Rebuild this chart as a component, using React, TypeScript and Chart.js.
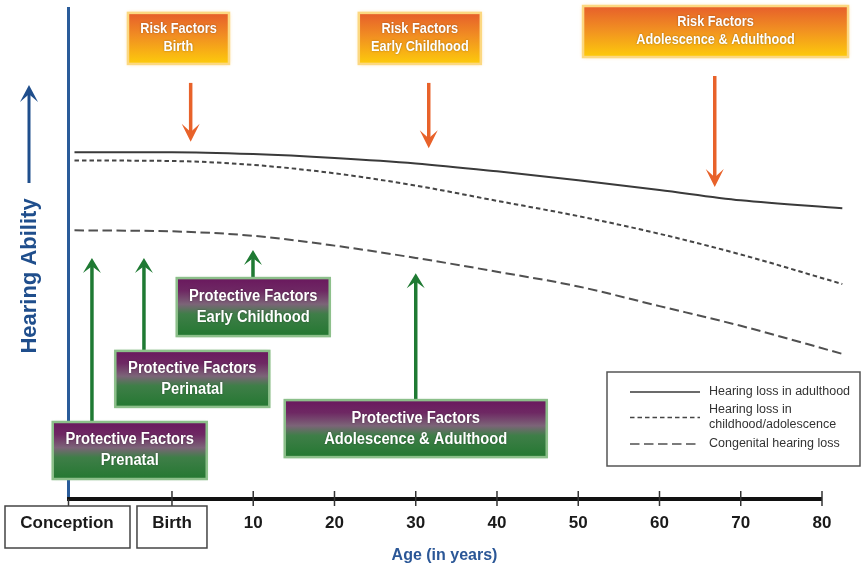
import React, { useEffect, useRef } from "react";
import { Chart, registerables } from "chart.js";

Chart.register(...registerables);

// ---------- data ----------
const AGES = [-12, 0, 10, 20, 30, 40, 50, 60, 70, 82.5];
const ADULTHOOD_LOSS = [70.5, 70.5, 70.1, 69.3, 68.2, 66.6, 64.8, 62.8, 60.7, 59.1];
const CHILDHOOD_LOSS = [68.8, 68.7, 67.9, 66.2, 63.7, 60.6, 57.5, 53.9, 49.7, 43.7];
const CONGENITAL_LOSS = [54.6, 54.4, 53.5, 51.5, 49.0, 46.2, 43.2, 39.2, 35.2, 29.5];
const SERIES_LABELS = ["Hearing loss in adulthood", "Hearing loss in childhood/adolescence", "Congenital hearing loss"];
const LEGEND_LINES = [["Hearing loss in adulthood"], ["Hearing loss in", "childhood/adolescence"], ["Congenital hearing loss"]];

const CONCEPTION = -12.92;
const TICK_VALUES = [CONCEPTION, 0, 10, 20, 30, 40, 50, 60, 70, 80];
const TICK_LABELS = ["Conception", "Birth", "10", "20", "30", "40", "50", "60", "70", "80"];

const RISK_STAGES = ["Birth", "Early Childhood", "Adolescence & Adulthood"];
const RISK_AGES = [2.3, 31.6, 66.8];
const RISK_LEVELS = [72.6, 71.3, 63.4];

const PROTECTIVE_STAGES = ["Prenatal", "Perinatal", "Early Childhood", "Adolescence & Adulthood"];
const PROTECTIVE_AGES = [-9.85, -3.45, 9.97, 30.0];
const PROTECTIVE_LEVELS = [49.0, 49.0, 50.6, 45.9];

// ---------- layout of annotation boxes (centre age, top level, size in px) ----------
const RISK_BOXES = [
  { cx: 0.8, top: 98.8, w: 101, h: 51 },
  { cx: 30.5, top: 98.8, w: 122, h: 51 },
  { cx: 66.9, top: 100.2, w: 265, h: 51 },
];
const PROTECTIVE_BOXES = [
  { cx: -5.2, top: 15.65, w: 154, h: 57 },
  { cx: 2.5, top: 30.1, w: 154, h: 56 },
  { cx: 10.0, top: 44.9, w: 153, h: 58 },
  { cx: 30.0, top: 20.1, w: 262, h: 57 },
];

const FONT = "'Liberation Sans', Arial, sans-serif";
const BLUE = "#1F4E8C";
const ORANGE = "#E8622A";
const GREEN = "#1F7A33";

function drawArrow(ctx: CanvasRenderingContext2D, x: number, yTail: number, yTip: number, color: string, shaft: number, headW: number, headH: number) {
  const dir = yTip < yTail ? -1 : 1;
  const baseY = yTip - dir * headH;
  ctx.save();
  ctx.strokeStyle = color;
  ctx.fillStyle = color;
  ctx.lineWidth = shaft;
  ctx.beginPath();
  ctx.moveTo(x, yTail);
  ctx.lineTo(x, yTip - dir * headH * 0.5);
  ctx.stroke();
  ctx.beginPath();
  ctx.moveTo(x, yTip);
  ctx.lineTo(x - headW / 2, baseY);
  ctx.lineTo(x, yTip - dir * headH * 0.55);
  ctx.lineTo(x + headW / 2, baseY);
  ctx.closePath();
  ctx.fill();
  ctx.restore();
}

function drawBoxText(ctx: CanvasRenderingContext2D, lines: string[], cx: number, cy: number, size: number, sx: number, gap: number) {
  ctx.save();
  ctx.font = `bold ${size}px ${FONT}`;
  ctx.fillStyle = "#ffffff";
  ctx.textAlign = "center";
  ctx.textBaseline = "middle";
  ctx.shadowColor = "rgba(0,0,0,0.35)";
  ctx.shadowBlur = 2;
  lines.forEach((t, i) => {
    const y = cy + (i - (lines.length - 1) / 2) * gap;
    ctx.save();
    ctx.translate(cx, y);
    ctx.scale(sx, 1);
    ctx.fillText(t, 0, 0);
    ctx.restore();
  });
  ctx.restore();
}

const diagramPlugin = {
  id: "diagram",
  beforeDatasetsDraw(chart: any) {
    const { ctx, chartArea, scales } = chart;
    const x = scales.x;
    const axisY = chartArea.bottom;
    ctx.save();
    // vertical (hearing ability) axis
    ctx.strokeStyle = "#2A5C9A";
    ctx.lineWidth = 3;
    ctx.beginPath();
    ctx.moveTo(chartArea.left + 1.5, chartArea.top);
    ctx.lineTo(chartArea.left + 1.5, axisY);
    ctx.stroke();
    // age axis
    const x0 = x.getPixelForValue(CONCEPTION);
    const x1 = x.getPixelForValue(80);
    ctx.strokeStyle = "#111";
    ctx.lineWidth = 4;
    ctx.beginPath();
    ctx.moveTo(x0, axisY);
    ctx.lineTo(x1, axisY);
    ctx.stroke();
    ctx.lineWidth = 1.5;
    ctx.strokeStyle = "#333";
    TICK_VALUES.forEach((v, i) => {
      const px = x.getPixelForValue(v) + (i === 0 ? 1.5 : 0);
      ctx.beginPath();
      ctx.moveTo(px, i === 0 ? axisY : axisY - 8);
      ctx.lineTo(px, axisY + 7);
      ctx.stroke();
    });
    // boxes round "Conception" and "Birth"
    ctx.strokeStyle = "#444";
    ctx.lineWidth = 1.5;
    const pc = x.getPixelForValue(CONCEPTION);
    ctx.strokeRect(pc - 62, axisY + 7, 125, 42);
    const pb = x.getPixelForValue(0);
    ctx.strokeRect(pb - 35, axisY + 7, 70, 42);
    ctx.restore();
  },
  afterDatasetsDraw(chart: any) {
    const { ctx, scales } = chart;
    const x = scales.x;
    const y = scales.y;

    // risk factor boxes and arrows
    RISK_STAGES.forEach((stage, i) => {
      const b = RISK_BOXES[i];
      const cx = x.getPixelForValue(b.cx);
      const top = y.getPixelForValue(b.top);
      const left = cx - b.w / 2;
      ctx.save();
      ctx.shadowColor = "rgba(250,200,100,0.7)";
      ctx.shadowBlur = 4;
      const g = ctx.createLinearGradient(0, top, 0, top + b.h);
      g.addColorStop(0, "#E65E2B");
      g.addColorStop(0.45, "#F18E22");
      g.addColorStop(1, "#FDCB0B");
      ctx.fillStyle = g;
      ctx.fillRect(left, top, b.w, b.h);
      ctx.shadowBlur = 0;
      ctx.strokeStyle = "#FCD880";
      ctx.lineWidth = 2.5;
      ctx.strokeRect(left, top, b.w, b.h);
      ctx.restore();
      drawBoxText(ctx, ["Risk Factors", stage], cx, top + b.h / 2 - 0.5, 15, 0.85, 18);
      const ax = x.getPixelForValue(RISK_AGES[i]);
      drawArrow(ctx, ax, top + b.h + 19, y.getPixelForValue(RISK_LEVELS[i]), ORANGE, 3.5, 18, 18);
    });

    // protective factor boxes and arrows
    PROTECTIVE_STAGES.forEach((stage, i) => {
      const b = PROTECTIVE_BOXES[i];
      const cx = x.getPixelForValue(b.cx);
      const top = y.getPixelForValue(b.top);
      const left = cx - b.w / 2;
      const ax = x.getPixelForValue(PROTECTIVE_AGES[i]);
      drawArrow(ctx, ax, top, y.getPixelForValue(PROTECTIVE_LEVELS[i]), GREEN, 3.5, 18, 15);
      ctx.save();
      ctx.shadowColor = "rgba(120,160,120,0.6)";
      ctx.shadowBlur = 3;
      const g = ctx.createLinearGradient(0, top, 0, top + b.h);
      g.addColorStop(0, "#6A185E");
      g.addColorStop(0.22, "#6E2863");
      g.addColorStop(0.45, "#7C6478");
      g.addColorStop(0.62, "#3F7E48");
      g.addColorStop(1, "#247831");
      ctx.fillStyle = g;
      ctx.fillRect(left, top, b.w, b.h);
      ctx.shadowBlur = 0;
      ctx.strokeStyle = "#8CBF8A";
      ctx.lineWidth = 2.5;
      ctx.strokeRect(left, top, b.w, b.h);
      ctx.restore();
      drawBoxText(ctx, ["Protective Factors", stage], cx, top + b.h / 2, 16, 0.92, 21);
    });

    // y title with arrow
    ctx.save();
    ctx.translate(29, 276);
    ctx.rotate(-Math.PI / 2);
    ctx.font = `bold 22px ${FONT}`;
    ctx.fillStyle = BLUE;
    ctx.textAlign = "center";
    ctx.textBaseline = "middle";
    ctx.fillText("Hearing Ability", 0, 1);
    ctx.restore();
    drawArrow(ctx, 29, 183, 85, BLUE, 3, 18, 17);

    // legend
    const lx = 607, ly = 372, lw = 253, lh = 94;
    ctx.save();
    ctx.fillStyle = "#fff";
    ctx.fillRect(lx, ly, lw, lh);
    ctx.strokeStyle = "#555";
    ctx.lineWidth = 1.5;
    ctx.strokeRect(lx, ly, lw, lh);
    ctx.font = `12.5px ${FONT}`;
    ctx.fillStyle = "#333";
    ctx.textBaseline = "middle";
    const rows = [[392], [410, 425], [444]];
    chart.data.datasets.forEach((ds: any, i: number) => {
      const ys = rows[i];
      const sy = ys.length > 1 ? (ys[0] + ys[1]) / 2 : ys[0];
      ctx.save();
      ctx.strokeStyle = ds.borderColor;
      ctx.lineWidth = 1.5;
      ctx.setLineDash(ds.borderDash || []);
      ctx.beginPath();
      ctx.moveTo(lx + 23, sy);
      ctx.lineTo(lx + 93, sy);
      ctx.stroke();
      ctx.restore();
      LEGEND_LINES[i].forEach((t, j) => ctx.fillText(t, lx + 102, ys[j]));
    });
    ctx.restore();
  },
};

export default function App() {
  const ref = useRef<HTMLCanvasElement | null>(null);
  useEffect(() => {
    if (!ref.current) return;
    const mk = (vals: number[]) => AGES.map((a, i) => ({ x: a, y: vals[i] }));
    const chart = new Chart(ref.current, {
      type: "line",
      data: {
        datasets: [
          { label: SERIES_LABELS[0], data: mk(ADULTHOOD_LOSS), borderColor: "#3A3A3A", borderWidth: 2, borderDash: [], pointRadius: 0, cubicInterpolationMode: "monotone", clip: false as any },
          { label: SERIES_LABELS[1], data: mk(CHILDHOOD_LOSS), borderColor: "#454545", borderWidth: 2, borderDash: [4.5, 3], pointRadius: 0, cubicInterpolationMode: "monotone", clip: false as any },
          { label: SERIES_LABELS[2], data: mk(CONGENITAL_LOSS), borderColor: "#505050", borderWidth: 2, borderDash: [9.5, 4.5], pointRadius: 0, cubicInterpolationMode: "monotone", clip: false as any },
        ],
      } as any,
      options: {
        responsive: false,
        animation: false,
        layout: { padding: { left: 67, right: 39, top: 7, bottom: 0 } },
        plugins: { legend: { display: false }, tooltip: { enabled: false }, title: { display: false } },
        scales: {
          x: {
            type: "linear",
            min: CONCEPTION,
            max: 80,
            grid: { display: false, drawTicks: false },
            border: { display: false },
            afterBuildTicks: (scale: any) => {
              scale.ticks = TICK_VALUES.map((v) => ({ value: v }));
            },
            afterFit: (scale: any) => {
              scale.height = 66;
            },
            ticks: {
              autoSkip: false,
              maxRotation: 0,
              padding: 14,
              color: "#1a1a1a",
              font: { family: FONT, size: 17, weight: "bold" },
              callback: (_v: any, i: number) => TICK_LABELS[i],
            },
            title: {
              display: true,
              text: "Age (in years)",
              color: "#2B5797",
              font: { family: FONT, size: 16, weight: "bold" },
              padding: { top: 0, bottom: 0 },
            },
          },
          y: { type: "linear", min: 0, max: 100, display: false },
        },
      } as any,
      plugins: [diagramPlugin],
    });
    return () => chart.destroy();
  }, []);
  return (
    <div style={{ position: "fixed", left: 0, top: 0, width: 861, height: 565, background: "#fff" }}>
      <canvas ref={ref} width={861} height={565} style={{ display: "block" }} />
    </div>
  );
}
